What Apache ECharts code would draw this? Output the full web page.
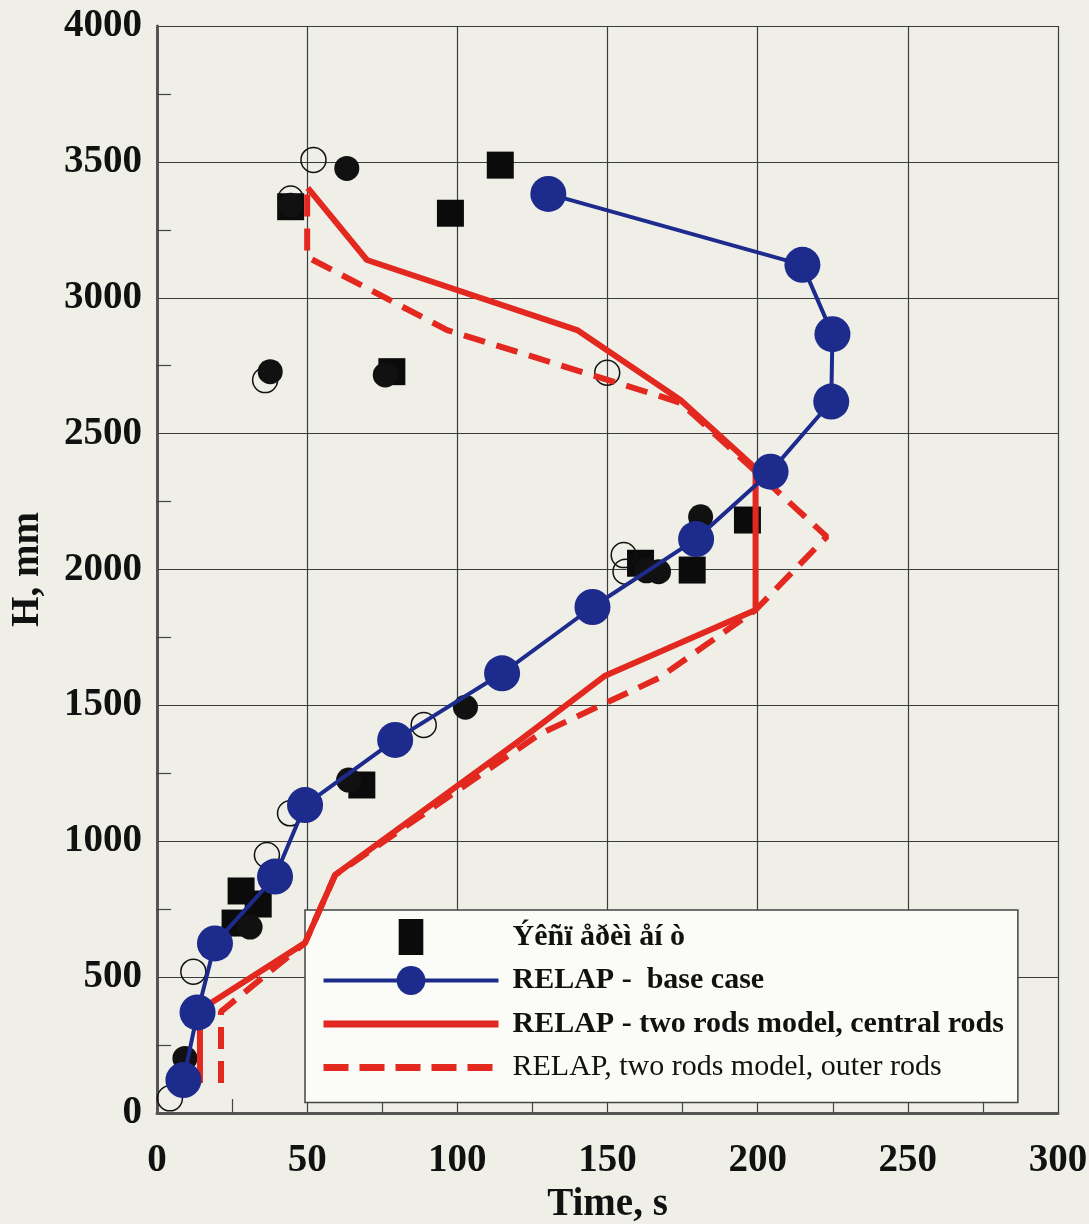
<!DOCTYPE html>
<html>
<head>
<meta charset="utf-8">
<script src="https://cdn.jsdelivr.net/npm/echarts@6/dist/echarts.min.js"></script>
<style>
  html, body { margin: 0; padding: 0; background: #efefe8; }
  #chart { width: 1089px; height: 1224px; }
</style>
</head>
<body>
<div id="chart"></div>
<script>
// Quench front elevation vs. time: experiment and RELAP calculations
const expName = 'Ýêñï åðèì åí ò';
const baseName = 'RELAP -  base case';
const centralName = 'RELAP - two rods model, central rods';
const outerName = 'RELAP, two rods model, outer rods';

// [time, s ; H, mm]
const expSquares = [
  [44.5, 3335], [97.7, 3311], [114.3, 3488], [78.2, 2728],
  [161, 2023], [178.2, 1998], [196.6, 2182], [68.2, 1207],
  [28, 817], [33.7, 769], [26, 699]
];
const expFilled = [
  [63.2, 3476], [44.5, 3340], [37.7, 2728], [76, 2716],
  [102.7, 1493], [63.8, 1225], [31, 684], [9.3, 201],
  [181, 2194], [163, 1995], [167, 1992]
];
const expOpen = [
  [52.1, 3507], [44.5, 3365], [36, 2697], [149.9, 2724],
  [88.8, 1428], [44.3, 1103], [36.6, 949], [12.1, 520],
  [4.3, 54], [155.4, 2053], [156, 1992]
];
const baseCase = [
  [8.8, 121], [13.5, 370], [19.3, 624], [39.3, 870], [49.3, 1133],
  [79.3, 1373], [114.9, 1618], [145, 1862], [179.5, 2112], [204.3, 2360],
  [224.5, 2618], [224.9, 2866], [214.9, 3121], [130.3, 3382]
];
const centralRods = [
  [14.3, 110], [14.3, 379], [49.3, 626], [59.3, 876], [121, 1373],
  [149, 1608], [199.3, 1851], [199.3, 2373], [174.3, 2624],
  [139.9, 2881], [69.9, 3139], [50.2, 3404]
];
const outerRods = [
  [21.3, 110], [21.3, 373], [49.3, 626], [59.3, 876], [127.5, 1395],
  [167, 1600], [199.3, 1851], [223, 2121], [174.5, 2612],
  [167.7, 2637], [96.6, 2881], [50, 3150], [50, 3398]
];

const serif = '"Liberation Serif", "DejaVu Serif", serif';
const ink = '#111';
const red = '#e2281f';
const blue = '#1d2c8c';

const chart = echarts.init(document.getElementById('chart'), null, { renderer: 'canvas' });

const plainNumber = v => String(v);

chart.setOption({
  backgroundColor: '#efefe8',
  animation: false,
  grid: { left: 157, right: 31, top: 26, bottom: 111, outerBoundsMode: 'none', containLabel: false },
  xAxis: {
    type: 'value', min: 0, max: 300, interval: 50,
    name: 'Time, s', nameLocation: 'middle', nameGap: 72,
    nameTextStyle: { fontFamily: serif, fontWeight: 'bold', fontSize: 39, color: ink },
    axisLine: { show: true, onZero: false, lineStyle: { color: '#555', width: 3 } },
    axisTick: { show: false, inside: true },
    minorTick: { show: true, splitNumber: 2, length: 14, lineStyle: { color: '#444', width: 1.2 } },
    axisLabel: { fontFamily: serif, fontWeight: 'bold', fontSize: 39, color: ink, margin: 28, formatter: plainNumber },
    splitLine: { show: true, lineStyle: { color: '#3c3c3c', width: 1.2 } }
  },
  yAxis: {
    type: 'value', min: 0, max: 4000, interval: 500,
    name: 'H, mm', nameLocation: 'middle', nameGap: 110,
    nameTextStyle: { fontFamily: serif, fontWeight: 'bold', fontSize: 39, color: ink },
    axisLine: { show: true, onZero: false, lineStyle: { color: '#555', width: 3 } },
    axisTick: { show: false, inside: true },
    minorTick: { show: true, splitNumber: 2, length: 14, lineStyle: { color: '#444', width: 1.2 } },
    axisLabel: { fontFamily: serif, fontWeight: 'bold', fontSize: 39, color: ink, margin: 15, formatter: plainNumber },
    splitLine: { show: true, lineStyle: { color: '#3c3c3c', width: 1.2 } }
  },
  legend: {
    orient: 'vertical', left: 305, top: 910,
    selectedMode: false,
    backgroundColor: '#fbfbf7', borderColor: '#444', borderWidth: 1.5,
    padding: [9, 14, 17, 15], itemGap: 7.5,
    itemWidth: 175, itemHeight: 36,
    textStyle: { fontFamily: serif, fontSize: 30, lineHeight: 36, color: ink, padding: [0, 0, 0, 9] },
    data: [
      { name: expName, icon: 'path://M0,0L26,0L26,38L0,38Z', itemStyle: { opacity: 1 }, textStyle: { fontWeight: 'bold' } },
      { name: baseName, lineStyle: { width: 4 }, textStyle: { fontWeight: 'bold' } },
      { name: centralName, lineStyle: { width: 7 }, itemStyle: { opacity: 0 }, textStyle: { fontWeight: 'bold' } },
      { name: outerName, lineStyle: { width: 7, type: [25, 11] }, itemStyle: { opacity: 0 }, textStyle: { fontWeight: 'normal' } }
    ]
  },
  series: [
    {
      name: expName, type: 'scatter', data: expSquares, symbol: 'rect', symbolSize: 27,
      itemStyle: { color: '#0b0b0b', opacity: 1 }, z: 2
    },
    {
      name: 'filled', type: 'scatter', data: expFilled, symbol: 'circle', symbolSize: 25,
      itemStyle: { color: '#111', opacity: 1 }, z: 2
    },
    {
      name: 'open', type: 'scatter', data: expOpen, symbol: 'circle', symbolSize: 25,
      itemStyle: { color: 'rgba(0,0,0,0)', borderColor: '#111', borderWidth: 1.5, opacity: 1 }, z: 3
    },
    {
      name: outerName, type: 'line', data: outerRods, symbol: 'none', showSymbol: false,
      lineStyle: { color: red, width: 6, type: [22, 12] }, itemStyle: { color: red }, z: 4
    },
    {
      name: centralName, type: 'line', data: centralRods, symbol: 'none', showSymbol: false,
      lineStyle: { color: red, width: 6 }, itemStyle: { color: red }, z: 5
    },
    {
      name: baseName, type: 'line', data: baseCase, symbol: 'circle', symbolSize: 36,
      lineStyle: { color: blue, width: 4 }, itemStyle: { color: blue }, z: 6
    }
  ]
});
</script>
</body>
</html>
